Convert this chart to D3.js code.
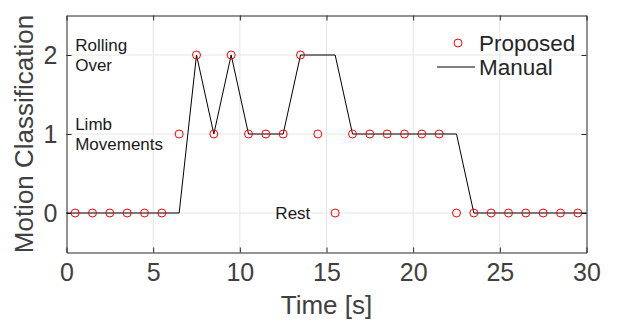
<!DOCTYPE html>
<html>
<head>
<meta charset="utf-8">
<script src="https://cdn.jsdelivr.net/npm/d3@7"></script>
<style>
  body { margin: 0; background: #fff; }
  text { font-family: Arial, "Liberation Sans", Helvetica, sans-serif; }
</style>
</head>
<body>
<div id="chart"></div>
<script>
// data
const proposedTime = [0.5, 1.5, 2.5, 3.5, 4.5, 5.5, 6.5, 7.5, 8.5, 9.5, 10.5, 11.5, 12.5, 13.5, 14.5,
  15.5, 16.5, 17.5, 18.5, 19.5, 20.5, 21.5, 22.5, 23.5, 24.5, 25.5, 26.5, 27.5, 28.5, 29.5];
const proposedClass = [0, 0, 0, 0, 0, 0, 1, 2, 1, 2, 1, 1, 1, 2, 1,
  0, 1, 1, 1, 1, 1, 1, 0, 0, 0, 0, 0, 0, 0, 0];
const manualTime = [0, 6.5, 7.5, 8.5, 9.5, 10.5, 12.5, 13.5, 15.5, 16.5, 22.5, 23.5, 30];
const manualClass = [0, 0, 2, 1, 2, 1, 1, 2, 2, 1, 1, 0, 0];
const xTicks = [0, 5, 10, 15, 20, 25, 30];
const yTicks = [0, 1, 2];
const classLabels = [
  { lines: ["Rolling", "Over"], t: 0.5, c: 2 },
  { lines: ["Limb", "Movements"], t: 0.5, c: 1 },
  { lines: ["Rest"], t: 12.05, c: 0 }
];

const width = 619, height = 326;
const margin = { left: 66.5, right: 32.5, top: 15.5, bottom: 73.5 };

const svg = d3.select("#chart").append("svg")
  .attr("width", width)
  .attr("height", height);

const x = d3.scaleLinear().domain([0, 30]).range([margin.left, width - margin.right]);
const y = d3.scaleLinear().domain([-0.5, 2.5]).range([height - margin.bottom, margin.top]);

// grid
svg.append("g").selectAll("line.gx")
  .data(xTicks.slice(1, -1))
  .join("line")
  .attr("x1", d => x(d)).attr("x2", d => x(d))
  .attr("y1", y(-0.5)).attr("y2", y(2.5))
  .style("stroke", "#e6e6e6");
svg.append("g").selectAll("line.gy")
  .data(yTicks)
  .join("line")
  .attr("x1", x(0)).attr("x2", x(30))
  .attr("y1", d => y(d)).attr("y2", d => y(d))
  .style("stroke", "#e6e6e6");

// axes
const axisColor = "#262626";
const tickColor = "#404040";
function styleAxis(g) {
  g.select(".domain").style("stroke", axisColor);
  g.selectAll(".tick line").style("stroke", axisColor);
  g.selectAll(".tick text")
    .style("font-size", "25px")
    .style("fill", tickColor);
}
svg.append("g")
  .attr("transform", `translate(0,${y(-0.5)})`)
  .call(d3.axisBottom(x).tickValues(xTicks).tickFormat(d3.format("d")).tickSize(-5).tickPadding(11).tickSizeOuter(0))
  .call(styleAxis);
svg.append("g")
  .attr("transform", `translate(0,${y(2.5)})`)
  .call(d3.axisTop(x).tickValues(xTicks).tickSize(-5).tickFormat("").tickSizeOuter(0))
  .call(styleAxis);
svg.append("g")
  .attr("transform", `translate(${x(0)},0)`)
  .call(d3.axisLeft(y).tickValues(yTicks).tickFormat(d3.format("d")).tickSize(-5).tickPadding(9).tickSizeOuter(0))
  .call(styleAxis);
svg.append("g")
  .attr("transform", `translate(${x(30)},0)`)
  .call(d3.axisRight(y).tickValues(yTicks).tickSize(-5).tickFormat("").tickSizeOuter(0))
  .call(styleAxis);

// axis titles
svg.append("text")
  .attr("x", (x(0) + x(30)) / 2)
  .attr("y", 314)
  .attr("text-anchor", "middle")
  .style("font-size", "26px")
  .style("fill", tickColor)
  .text("Time [s]");
svg.append("text")
  .attr("transform", `translate(33,${(y(-0.5) + y(2.5)) / 2}) rotate(-90)`)
  .attr("text-anchor", "middle")
  .style("font-size", "26px")
  .style("fill", tickColor)
  .text("Motion Classification");

// manual line
const line = d3.line().x(d => x(d[0])).y(d => y(d[1]));
svg.append("path")
  .datum(d3.zip(manualTime, manualClass))
  .attr("d", line)
  .style("fill", "none")
  .style("stroke", "#000")
  .style("stroke-width", 1);

// proposed markers
svg.append("g").selectAll("circle")
  .data(d3.zip(proposedTime, proposedClass))
  .join("circle")
  .attr("cx", d => x(d[0]))
  .attr("cy", d => y(d[1]))
  .attr("r", 4)
  .style("fill", "none")
  .style("stroke", "#ff0000")
  .style("stroke-width", 1);

// class annotations
classLabels.forEach(lab => {
  const n = lab.lines.length;
  const t = svg.append("text")
    .attr("x", x(lab.t))
    .attr("y", y(lab.c))
    .style("font-size", "17px")
    .style("fill", "#1a1a1a");
  lab.lines.forEach((s, i) => {
    t.append("tspan")
      .attr("x", x(lab.t))
      .attr("dy", i === 0 ? ((-(n - 1) / 2) * 1.18 + 0.35) + "em" : "1.18em")
      .text(s);
  });
});

// legend
const legend = svg.append("g");
legend.append("circle")
  .attr("cx", 458).attr("cy", 43).attr("r", 4)
  .style("fill", "none").style("stroke", "#ff0000");
legend.append("line")
  .attr("x1", 437).attr("x2", 475).attr("y1", 67).attr("y2", 67)
  .style("stroke", "#000");
legend.append("text")
  .attr("x", 479).attr("y", 51)
  .style("font-size", "22.5px").style("fill", "#262626")
  .text("Proposed");
legend.append("text")
  .attr("x", 479).attr("y", 75)
  .style("font-size", "22.5px").style("fill", "#262626")
  .text("Manual");
</script>
</body>
</html>
